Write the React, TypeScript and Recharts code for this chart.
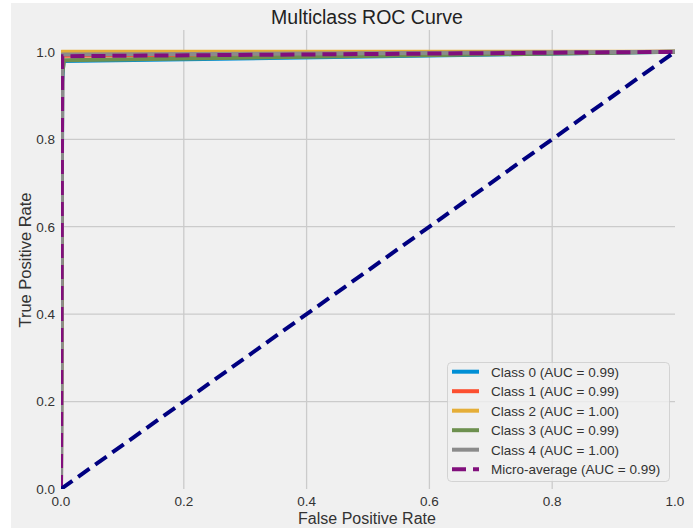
import React from 'react';
import { LineChart, Line, XAxis, YAxis, CartesianGrid } from 'recharts';

// ---- data ----
const classNames = ['Class 0', 'Class 1', 'Class 2', 'Class 3', 'Class 4'];
const classAuc = ['0.99', '0.99', '1.00', '0.99', '1.00'];
const classColors = ['#008fd5', '#fc4f30', '#e5ae38', '#6d904f', '#8b8b8b'];

const fpr0 = [0, 0.002, 0.004, 1];
const tpr0 = [0, 0.93, 0.979, 1];
const fpr1 = [0, 0.002, 1];
const tpr1 = [0, 0.991, 1];
const fpr2 = [0, 0.001, 1];
const tpr2 = [0, 1.0, 1];
const fpr3 = [0, 0.002, 0.005, 1];
const tpr3 = [0, 0.95, 0.981, 1];
const fpr4 = [0, 0.002, 1];
const tpr4 = [0, 0.994, 1];

const microName = 'Micro-average';
const microAuc = '0.99';
const microColor = '#810f7c';
const fprMicro = [0, 0.002, 1];
const tprMicro = [0, 0.99, 1];

const chanceX = [0, 1];
const chanceY = [0, 1];

const xTicks = [0, 0.2, 0.4, 0.6, 0.8, 1.0];
const yTicks = [0, 0.2, 0.4, 0.6, 0.8, 1.0];
const gridX = [0.2, 0.4, 0.6, 0.8];
const gridY = [0.2, 0.4, 0.6, 0.8, 1.0];

const title = 'Multiclass ROC Curve';
const xLabel = 'False Positive Rate';
const yLabel = 'True Positive Rate';

const zip = (xs: number[], ys: number[]) => xs.map((x, i) => ({ x, y: ys[i] }));
const classCurves = [zip(fpr0, tpr0), zip(fpr1, tpr1), zip(fpr2, tpr2), zip(fpr3, tpr3), zip(fpr4, tpr4)];
const microCurve = zip(fprMicro, tprMicro);
const chanceCurve = zip(chanceX, chanceY);

const FONT = '"Liberation Sans", Arial, sans-serif';
const W = 698;
const H = 531;

export default function App() {
  const legendItems = [
    ...classNames.map((n, i) => ({ label: `${n} (AUC = ${classAuc[i]})`, color: classColors[i], dashed: false })),
    { label: `${microName} (AUC = ${microAuc})`, color: microColor, dashed: true },
  ];
  return (
    <div style={{ position: 'absolute', left: 0, top: 0, width: W, height: H, background: '#ffffff' }}>
      <div style={{ position: 'absolute', left: 11, top: 3, width: 682, height: 525, background: '#f0f0f0' }} />
      <div style={{ position: 'absolute', left: 0, top: 0 }}>
        <LineChart width={W} height={H} margin={{ top: 30, right: 23, left: 0, bottom: 0 }}>
          <CartesianGrid
            stroke="#cbcbcb"
            strokeWidth={1.3}
            horizontalValues={gridY}
            verticalValues={gridX}
          />
          <XAxis
            dataKey="x"
            type="number"
            domain={[0, 1]}
            ticks={xTicks}
            interval={0}
            allowDataOverflow
            height={42}
            axisLine={false}
            tickLine={false}
            tickSize={0}
            tickMargin={7}
            tickFormatter={(v: number) => v.toFixed(1)}
            tick={{ fontSize: 13.5, fill: '#333', fontFamily: FONT }}
          />
          <YAxis
            type="number"
            domain={[0, 1.05]}
            ticks={yTicks}
            interval={0}
            allowDataOverflow
            width={61}
            axisLine={false}
            tickLine={false}
            tickSize={0}
            tickMargin={6}
            tickFormatter={(v: number) => v.toFixed(1)}
            tick={{ fontSize: 13.5, fill: '#333', fontFamily: FONT }}
          />
          {classCurves.map((d, i) => (
            <Line
              key={classNames[i]}
              data={d}
              dataKey="y"
              type="linear"
              stroke={classColors[i]}
              strokeWidth={4}
              dot={false}
              activeDot={false}
              isAnimationActive={false}
              strokeLinejoin="round"
            />
          ))}
          <Line
            data={microCurve}
            dataKey="y"
            type="linear"
            stroke={microColor}
            strokeWidth={4}
            strokeDasharray="14 7"
            dot={false}
            activeDot={false}
            isAnimationActive={false}
          />
          <Line
            data={chanceCurve}
            dataKey="y"
            type="linear"
            stroke="#000080"
            strokeWidth={4}
            strokeDasharray="14 7"
            dot={false}
            activeDot={false}
            isAnimationActive={false}
          />
        </LineChart>
      </div>
      <svg width={W} height={H} style={{ position: 'absolute', left: 0, top: 0, pointerEvents: 'none' }}>
        <text x={367} y={24} textAnchor="middle" fontSize={19.5} fill="#222" fontFamily={FONT}>{title}</text>
        <text x={367} y={524} textAnchor="middle" fontSize={16} fill="#333" fontFamily={FONT}>{xLabel}</text>
        <text x={31} y={260} textAnchor="middle" fontSize={16.5} fill="#333" fontFamily={FONT} transform="rotate(-90 31 260)">{yLabel}</text>
        <rect x={447.5} y={362.5} width={222} height={119} rx={4} fill="#f0f0f0" fillOpacity={0.8} stroke="#cccccc" strokeOpacity={0.8} />
        {legendItems.map((it, i) => {
          const cy = 371.7 + i * 19.5;
          return (
            <g key={it.label}>
              <line x1={452} x2={479} y1={cy} y2={cy} stroke={it.color} strokeWidth={4} strokeDasharray={it.dashed ? '14 7' : undefined} />
              <text x={491} y={cy + 4.8} fontSize={13.5} fill="#333" fontFamily={FONT}>{it.label}</text>
            </g>
          );
        })}
      </svg>
    </div>
  );
}
